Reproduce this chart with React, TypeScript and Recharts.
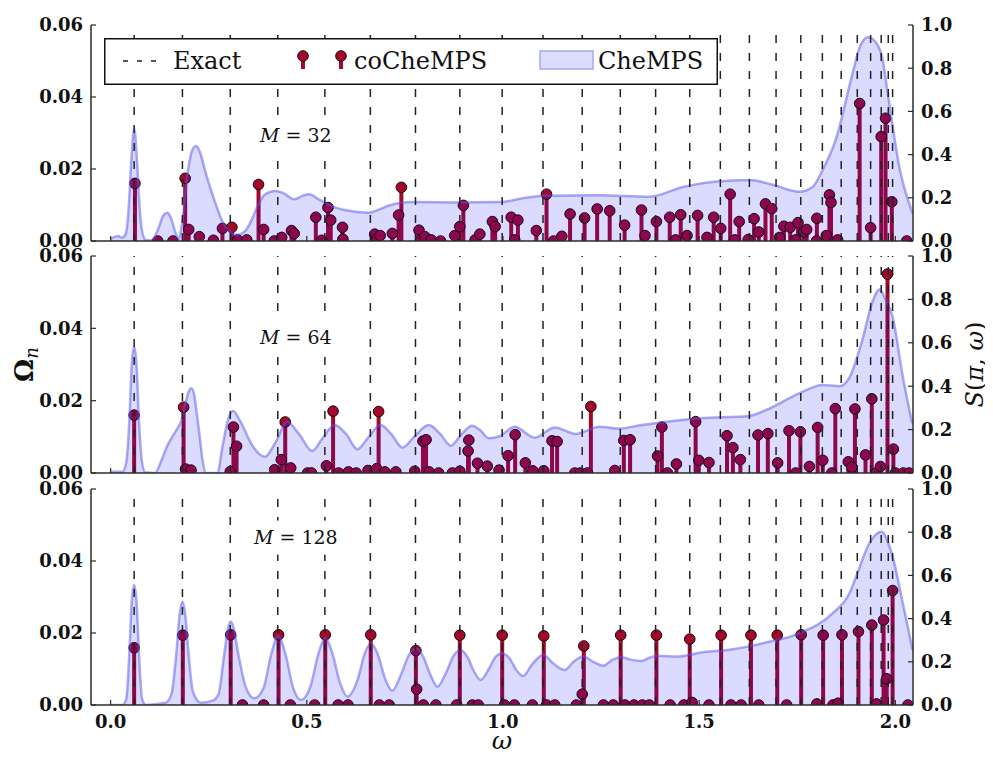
import React from 'react';
import {
  ComposedChart,
  XAxis,
  YAxis,
  Scatter,
  Area,
  ReferenceLine,
  ReferenceDot,
  Legend,
} from 'recharts';

// ---------------- data ----------------
const EXACT_OMEGA = [
  0.060, 0.183, 0.305, 0.426, 0.546, 0.662, 0.777, 0.890, 0.998, 1.102, 1.202, 1.299, 1.389,
  1.476, 1.554, 1.628, 1.696, 1.759, 1.814, 1.862, 1.903, 1.937, 1.964, 1.982, 1.993,
];

const X_TICKS = [0, 0.5, 1.0, 1.5, 2.0];
const LEFT_TICKS = [0, 0.02, 0.04, 0.06];
const RIGHT_TICKS = [0, 0.2, 0.4, 0.6, 0.8, 1.0];

// coCheMPS weights (omega, Omega_n)
const M32_STEMS: [number, number][] = [
  [0.062, 0.016], [0.12, 0], [0.159, 0], [0.19, 0.0174], [0.199, 0.0032], [0.226, 0.0012],
  [0.262, 0.0002], [0.285, 0.0035], [0.309, 0.0038], [0.324, 0.0003], [0.347, 0.0003],
  [0.377, 0.0157], [0.39, 0.0032], [0.417, 0], [0.436, 0.001], [0.461, 0.0029], [0.468, 0.0021],
  [0.523, 0.0066], [0.538, 0.0002], [0.554, 0.0093], [0.561, 0.0058], [0.591, 0.0038],
  [0.592, 0.0005], [0.673, 0.0019], [0.678, 0.0005], [0.687, 0.0015], [0.718, 0.0021],
  [0.734, 0.0072], [0.741, 0.0149], [0.786, 0.003], [0.79, 0.0004], [0.801, 0.0012],
  [0.817, 0.0003], [0.841, 0], [0.877, 0.0015], [0.89, 0.004], [0.899, 0.0099], [0.929, 0.0003],
  [0.941, 0.0019], [0.973, 0.0054], [0.98, 0.004], [1.021, 0.0066], [1.03, 0.0003],
  [1.038, 0.0058], [1.085, 0.0029], [1.111, 0.013], [1.129, 0], [1.15, 0.0013], [1.171, 0.0075],
  [1.208, 0.0064], [1.24, 0.0089], [1.272, 0.0084], [1.31, 0.0044], [1.353, 0.0086],
  [1.362, 0.0015], [1.391, 0.0054], [1.425, 0.0066], [1.44, 0.0003], [1.453, 0.0073],
  [1.469, 0.0015], [1.496, 0.0071], [1.52, 0.001], [1.537, 0.0066], [1.555, 0.0035],
  [1.579, 0.013], [1.591, 0.0003], [1.602, 0.0054], [1.625, 0.0004], [1.64, 0.0062],
  [1.652, 0.0025], [1.669, 0.0103], [1.685, 0.009], [1.705, 0.001], [1.716, 0.0041],
  [1.732, 0.0038], [1.746, 0.0003], [1.752, 0.0051], [1.767, 0.0025], [1.774, 0.0032],
  [1.799, 0], [1.8, 0.0063], [1.824, 0.0015], [1.832, 0.0128], [1.836, 0.0107], [1.853, 0.0003],
  [1.909, 0.0382], [1.937, 0.0037], [1.964, 0.029], [1.975, 0.0341], [1.991, 0.0109], [2.029, 0],
];

const M64_STEMS: [number, number][] = [
  [0.06, 0.016], [0.186, 0.0182], [0.191, 0.0011], [0.205, 0.0008], [0.305, 0.0004],
  [0.313, 0.0127], [0.321, 0.0074], [0.418, 0.0009], [0.435, 0.0037], [0.445, 0.0141],
  [0.459, 0.0014], [0.502, 0], [0.512, 0], [0.55, 0.002], [0.567, 0.0171], [0.581, 0],
  [0.606, 0.0003], [0.626, 0], [0.656, 0.0007], [0.678, 0.0012], [0.683, 0.017], [0.699, 0.0003],
  [0.727, 0.0003], [0.775, 0.0005], [0.796, 0.0088], [0.804, 0.0092], [0.812, 0.0003],
  [0.836, 0], [0.871, 0], [0.89, 0.0005], [0.911, 0.0061], [0.913, 0.0091], [0.935, 0.0027],
  [0.96, 0.0019], [0.99, 0.0008], [1.013, 0.0048], [1.031, 0.0106], [1.057, 0.0028],
  [1.076, 0.0006], [1.104, 0.0006], [1.125, 0.0089], [1.138, 0.0087], [1.183, 0], [1.197, 0],
  [1.215, 0], [1.224, 0.0184], [1.285, 0.0007], [1.308, 0.009], [1.324, 0.0092],
  [1.394, 0.0047], [1.405, 0.0127], [1.419, 0], [1.442, 0.0025], [1.491, 0.0142],
  [1.499, 0.0035], [1.525, 0.0029], [1.571, 0.0103], [1.586, 0.007], [1.605, 0.0037],
  [1.65, 0.0105], [1.675, 0.0109], [1.7, 0.0028], [1.729, 0.0117], [1.746, 0], [1.758, 0.0114],
  [1.781, 0.0018], [1.802, 0.0126], [1.815, 0.0035], [1.838, 0], [1.847, 0.0178],
  [1.88, 0.0031], [1.889, 0.0016], [1.897, 0.0177], [1.924, 0.005], [1.94, 0.0205], [1.951, 0],
  [1.962, 0.0018], [1.98, 0.055], [1.995, 0.0066], [2.0, 0], [2.02, 0], [2.035, 0],
];

const M128_STEMS: [number, number][] = [
  [0.06, 0.0159], [0.184, 0.0194], [0.306, 0.0195], [0.336, 0], [0.39, 0], [0.428, 0.0195],
  [0.458, 0], [0.52, 0], [0.547, 0.0195], [0.58, 0], [0.605, 0], [0.663, 0.0195], [0.685, 0],
  [0.71, 0], [0.778, 0.0151], [0.78, 0.0044], [0.797, 0], [0.829, 0], [0.882, 0], [0.89, 0.0194],
  [0.922, 0], [0.937, 0], [0.998, 0.0194], [1.004, 0], [1.029, 0], [1.075, 0], [1.104, 0.0192],
  [1.111, 0], [1.132, 0], [1.187, 0], [1.202, 0.003], [1.206, 0.0164], [1.256, 0], [1.281, 0],
  [1.3, 0.0194], [1.311, 0], [1.334, 0], [1.355, 0], [1.373, 0], [1.391, 0.0194], [1.426, 0],
  [1.461, 0], [1.476, 0.0183], [1.482, 0.0007], [1.525, 0], [1.556, 0.0194], [1.581, 0],
  [1.607, 0], [1.632, 0.0194], [1.652, 0], [1.699, 0.0194], [1.723, 0], [1.76, 0.0195],
  [1.8, 0.0003], [1.816, 0.0194], [1.841, 0], [1.854, 0.0005], [1.864, 0.0195], [1.906, 0.0204],
  [1.94, 0.0222], [1.952, 0.0003], [1.97, 0.0236], [1.978, 0.0073], [1.993, 0.0318], [2.032, 0],
];

// CheMPS spectral function (omega, S)
const M32_CURVE: [number, number][] = [
  [0, 0.01], [0.012, 0.02], [0.02, 0.023], [0.028, 0.015], [0.038, 0.03], [0.046, 0.15],
  [0.053, 0.38], [0.06, 0.52], [0.067, 0.38], [0.074, 0.15], [0.082, 0.03], [0.09, 0.005],
  [0.105, 0.003], [0.12, 0.05], [0.135, 0.12], [0.145, 0.131], [0.155, 0.1], [0.165, 0.04],
  [0.173, 0.01], [0.182, 0.08], [0.196, 0.31], [0.208, 0.42], [0.218, 0.44], [0.228, 0.41],
  [0.24, 0.33], [0.255, 0.24], [0.27, 0.16], [0.285, 0.09], [0.3, 0.05], [0.323, 0.028],
  [0.345, 0.05], [0.36, 0.1], [0.374, 0.159], [0.39, 0.21], [0.408, 0.228], [0.42, 0.232],
  [0.44, 0.222], [0.468, 0.193], [0.49, 0.21], [0.506, 0.216], [0.533, 0.19], [0.565, 0.16],
  [0.6, 0.142], [0.655, 0.131], [0.714, 0.167], [0.765, 0.18], [0.884, 0.178], [0.994, 0.18],
  [1.05, 0.198], [1.111, 0.21], [1.246, 0.212], [1.374, 0.205], [1.458, 0.25], [1.543, 0.275],
  [1.628, 0.282], [1.688, 0.26], [1.755, 0.228], [1.789, 0.25], [1.815, 0.33], [1.848, 0.468],
  [1.891, 0.776], [1.91, 0.9], [1.93, 0.943], [1.95, 0.92], [1.965, 0.86], [1.985, 0.63],
  [2.01, 0.344], [2.044, 0.128],
];

const M64_CURVE: [number, number][] = [
  [0, 0.006], [0.03, 0.006], [0.04, 0.05], [0.048, 0.25], [0.054, 0.5], [0.06, 0.582],
  [0.066, 0.5], [0.072, 0.25], [0.08, 0.05], [0.088, 0.003], [0.113, 0], [0.13, 0.06],
  [0.143, 0.12], [0.165, 0.19], [0.18, 0.24], [0.192, 0.33], [0.2, 0.38], [0.206, 0.39],
  [0.213, 0.36], [0.22, 0.27], [0.227, 0.167], [0.235, 0.05], [0.242, 0], [0.272, 0],
  [0.285, 0.12], [0.3, 0.25], [0.312, 0.286], [0.33, 0.24], [0.36, 0.13], [0.393, 0.075],
  [0.42, 0.14], [0.45, 0.236], [0.48, 0.18], [0.514, 0.101], [0.54, 0.16], [0.571, 0.221],
  [0.6, 0.18], [0.629, 0.11], [0.655, 0.16], [0.688, 0.221], [0.715, 0.18], [0.744, 0.117],
  [0.775, 0.17], [0.811, 0.221], [0.84, 0.18], [0.867, 0.126], [0.895, 0.18], [0.921, 0.218],
  [0.94, 0.2], [0.964, 0.16], [0.992, 0.17], [1.03, 0.213], [1.081, 0.163], [1.132, 0.21],
  [1.185, 0.18], [1.246, 0.213], [1.297, 0.205], [1.35, 0.22], [1.416, 0.236], [1.501, 0.252],
  [1.628, 0.263], [1.67, 0.29], [1.755, 0.367], [1.815, 0.406], [1.858, 0.4], [1.883, 0.44],
  [1.917, 0.62], [1.94, 0.78], [1.96, 0.846], [1.975, 0.8], [1.993, 0.72], [2.019, 0.444],
  [2.043, 0.229],
];

const M128_CURVE: [number, number][] = [
  [0, 0], [0.03, 0], [0.04, 0.03], [0.048, 0.25], [0.054, 0.48], [0.06, 0.556], [0.066, 0.48],
  [0.072, 0.25], [0.08, 0.03], [0.09, 0], [0.14, 0.01], [0.155, 0.05], [0.168, 0.25],
  [0.176, 0.42], [0.183, 0.478], [0.19, 0.42], [0.198, 0.25], [0.21, 0.06], [0.23, 0.01],
  [0.26, 0.02], [0.275, 0.05], [0.29, 0.24], [0.3, 0.36], [0.306, 0.386], [0.313, 0.36],
  [0.325, 0.24], [0.345, 0.08], [0.366, 0.031], [0.39, 0.08], [0.41, 0.24], [0.427, 0.319],
  [0.445, 0.24], [0.465, 0.08], [0.485, 0.023], [0.51, 0.09], [0.53, 0.24], [0.547, 0.309],
  [0.565, 0.24], [0.585, 0.1], [0.604, 0.039], [0.63, 0.12], [0.648, 0.24], [0.663, 0.285],
  [0.68, 0.24], [0.7, 0.12], [0.718, 0.066], [0.74, 0.14], [0.76, 0.23], [0.778, 0.262],
  [0.795, 0.23], [0.815, 0.14], [0.833, 0.085], [0.855, 0.15], [0.875, 0.23], [0.892, 0.255],
  [0.91, 0.22], [0.925, 0.16], [0.943, 0.116], [0.965, 0.17], [0.982, 0.225], [0.998, 0.239],
  [1.015, 0.22], [1.035, 0.16], [1.051, 0.134], [1.075, 0.19], [1.102, 0.231], [1.13, 0.19],
  [1.157, 0.162], [1.18, 0.2], [1.204, 0.224], [1.23, 0.2], [1.255, 0.182], [1.28, 0.21],
  [1.302, 0.221], [1.325, 0.21], [1.352, 0.204], [1.375, 0.22], [1.395, 0.228], [1.442, 0.224],
  [1.501, 0.242], [1.586, 0.258], [1.67, 0.289], [1.755, 0.332], [1.84, 0.424], [1.883, 0.517],
  [1.9, 0.594], [1.934, 0.749], [1.964, 0.802], [1.993, 0.687], [2.019, 0.471], [2.044, 0.255],
];

// ---------------- style ----------------
const SERIF = "'DejaVu Serif', serif";
const AXIS_COLOR = '#2b2b2b';
const STEM_COLOR = '#a30a2a';
const X_DOMAIN: [number, number] = [-0.05, 2.045];
const CHART_W = 985;
const TICK_STYLE: React.CSSProperties = {
  fontFamily: SERIF,
  fontWeight: 'bold',
  fontSize: 18,
  fill: '#111',
};

const StemLine = (p: any) => {
  const { cx, cy } = p;
  if (cx == null || cy == null) return <g />;
  return <line x1={cx} y1={cy} x2={cx} y2={cy + 600} stroke={STEM_COLOR} strokeWidth={4} />;
};

const StemHead = (p: any) => {
  const { cx, cy } = p;
  if (cx == null || cy == null) return <g />;
  return <circle cx={cx} cy={cy} r={5.3} fill={STEM_COLOR} stroke="#1a0008" strokeWidth={1} />;
};

const makeBottomTick = (show: boolean) => (p: any) => {
  const { x, y, payload } = p;
  return (
    <g>
      <line x1={x} y1={y} x2={x} y2={y - 5} stroke={AXIS_COLOR} strokeWidth={1.2} />
      {show && (
        <text x={x} y={y + 23} textAnchor="middle" style={TICK_STYLE}>
          {Number(payload.value).toFixed(1)}
        </text>
      )}
    </g>
  );
};

const TopTick = (p: any) => {
  const { x, y } = p;
  return <line x1={x} y1={y} x2={x} y2={y + 5} stroke={AXIS_COLOR} strokeWidth={1.2} />;
};

const LeftTick = (p: any) => {
  const { x, y, payload } = p;
  return (
    <g>
      <line x1={x} y1={y} x2={x + 5} y2={y} stroke={AXIS_COLOR} strokeWidth={1.2} />
      <text x={x - 8} y={y} dy="0.36em" textAnchor="end" style={TICK_STYLE}>
        {Number(payload.value).toFixed(2)}
      </text>
    </g>
  );
};

const RightTick = (p: any) => {
  const { x, y, payload } = p;
  return (
    <g>
      <line x1={x} y1={y} x2={x - 5} y2={y} stroke={AXIS_COLOR} strokeWidth={1.2} />
      <text x={x + 8} y={y} dy="0.36em" textAnchor="start" style={TICK_STYLE}>
        {Number(payload.value).toFixed(1)}
      </text>
    </g>
  );
};

const OmegaXLabel = (p: any) => {
  const vb = p.viewBox;
  return (
    <text
      x={vb.x + vb.width / 2}
      y={vb.y + 44}
      textAnchor="middle"
      style={{ fontFamily: SERIF, fontStyle: 'italic', fontSize: 25, fill: '#111' }}
    >
      ω
    </text>
  );
};

const OmegaNLabel = (p: any) => {
  const vb = p.viewBox;
  const x = vb.x + 25;
  const y = vb.y + vb.height / 2;
  return (
    <text
      x={x}
      y={y}
      transform={`rotate(-90, ${x}, ${y})`}
      textAnchor="middle"
      style={{ fontFamily: SERIF, fontSize: 26, fill: '#111' }}
    >
      <tspan fontWeight="bold">Ω</tspan>
      <tspan fontStyle="italic" fontSize={18} dy={5}>n</tspan>
    </text>
  );
};

const SLabel = (p: any) => {
  const vb = p.viewBox;
  const x = vb.x + 70;
  const y = vb.y + vb.height / 2;
  return (
    <text
      x={x}
      y={y}
      transform={`rotate(-90, ${x}, ${y})`}
      textAnchor="middle"
      style={{ fontFamily: SERIF, fontSize: 24, fill: '#111' }}
    >
      <tspan fontStyle="italic">S</tspan>(<tspan fontStyle="italic">π</tspan>, <tspan fontStyle="italic">ω</tspan>)
    </text>
  );
};

const makeMLabel = (m: string) => (p: any) => {
  const vb = p.viewBox;
  const cx = vb.x + (vb.width || 0) / 2;
  const cy = vb.y + (vb.height || 0) / 2;
  const w = m.length > 2 ? 84 : 76;
  return (
    <g>
      <rect x={cx - w / 2} y={cy - 17} width={w} height={34} fill="#ffffff" />
      <text
        x={cx}
        y={cy}
        dy="0.36em"
        textAnchor="middle"
        style={{ fontFamily: SERIF, fontSize: 19, fill: '#111' }}
      >
        <tspan fontStyle="italic">M</tspan>
        {` = ${m}`}
      </text>
    </g>
  );
};

const LegendBox = () => (
  <svg width={614} height={47} style={{ display: 'block' }}>
    <rect x={0.75} y={0.75} width={612.5} height={45.5} fill="#ffffff" stroke="#111" strokeWidth={1.5} />
    <line x1={19} y1={23} x2={57} y2={23} stroke="#222" strokeWidth={1.5} strokeDasharray="5 9" />
    <text x={69} y={31} style={{ fontFamily: SERIF, fontSize: 24, fill: '#111' }}>Exact</text>
    <line x1={199} y1={18} x2={199} y2={31} stroke={STEM_COLOR} strokeWidth={4} />
    <circle cx={199} cy={18} r={5.3} fill={STEM_COLOR} stroke="#1a0008" strokeWidth={1} />
    <line x1={237} y1={18} x2={237} y2={31} stroke={STEM_COLOR} strokeWidth={4} />
    <circle cx={237} cy={18} r={5.3} fill={STEM_COLOR} stroke="#1a0008" strokeWidth={1} />
    <text x={250} y={31} style={{ fontFamily: SERIF, fontSize: 24, fill: '#111' }}>coCheMPS</text>
    <rect x={436} y={13} width={53} height={18} fill="#dcdcff" stroke="#a8a8f2" strokeWidth={1.5} />
    <text x={494} y={31} style={{ fontFamily: SERIF, fontSize: 24, fill: '#111' }}>CheMPS</text>
  </svg>
);

type PanelProps = {
  height: number;
  marginTop: number;
  xAxisHeight: number;
  stems: [number, number][];
  curve: [number, number][];
  mText: string;
  mY: number;
  showXLabels?: boolean;
  showYLabels?: boolean;
  showLegend?: boolean;
};

function Panel(props: PanelProps) {
  const { height, marginTop, xAxisHeight, stems, curve, mText, mY, showXLabels, showYLabels, showLegend } = props;
  const stemData = stems.map(([w, v]) => ({ w, v }));
  const curveData = curve.map(([w, s]) => ({ w, s }));
  return (
    <ComposedChart width={CHART_W} height={height} margin={{ top: marginTop, right: 0, bottom: 0, left: 0 }}>
      <XAxis
        xAxisId={0}
        dataKey="w"
        type="number"
        domain={X_DOMAIN}
        ticks={X_TICKS}
        interval={0}
        allowDataOverflow
        height={xAxisHeight}
        tickSize={0}
        tickMargin={0}
        tickLine={false}
        axisLine={{ stroke: AXIS_COLOR, strokeWidth: 1.5 }}
        tick={makeBottomTick(!!showXLabels)}
        label={showXLabels ? OmegaXLabel : undefined}
      />
      <XAxis
        xAxisId="top"
        orientation="top"
        dataKey="w"
        type="number"
        domain={X_DOMAIN}
        ticks={X_TICKS}
        interval={0}
        allowDataOverflow
        height={0}
        tickSize={0}
        tickMargin={0}
        tickLine={false}
        axisLine={{ stroke: AXIS_COLOR, strokeWidth: 1.5 }}
        tick={TopTick}
      />
      <YAxis
        yAxisId="left"
        type="number"
        domain={[0, 0.06]}
        ticks={LEFT_TICKS}
        interval={0}
        allowDataOverflow
        width={83}
        tickSize={0}
        tickMargin={0}
        tickLine={false}
        axisLine={{ stroke: AXIS_COLOR, strokeWidth: 1.5 }}
        tick={LeftTick}
        label={showYLabels ? OmegaNLabel : undefined}
      />
      <YAxis
        yAxisId="right"
        orientation="right"
        type="number"
        domain={[0, 1]}
        ticks={RIGHT_TICKS}
        interval={0}
        allowDataOverflow
        width={80}
        tickSize={0}
        tickMargin={0}
        tickLine={false}
        axisLine={{ stroke: AXIS_COLOR, strokeWidth: 1.5 }}
        tick={RightTick}
        label={showYLabels ? SLabel : undefined}
      />
      <Scatter
        yAxisId="left"
        data={stemData}
        dataKey="v"
        shape={StemLine}
        isAnimationActive={false}
        zIndex={300}
      />
      <Scatter
        yAxisId="left"
        data={stemData}
        dataKey="v"
        shape={StemHead}
        isAnimationActive={false}
        zIndex={310}
      />
      <Area
        yAxisId="right"
        data={curveData}
        dataKey="s"
        type="monotone"
        fill="#0000ff"
        fillOpacity={0.14}
        stroke="#5555ee"
        strokeOpacity={0.5}
        strokeWidth={2.5}
        dot={false}
        activeDot={false}
        isAnimationActive={false}
        zIndex={350}
      />
      {EXACT_OMEGA.map((w) => (
        <ReferenceLine
          key={w}
          x={w}
          yAxisId="left"
          stroke="#222"
          strokeWidth={1.5}
          strokeDasharray="8 10"
          zIndex={400}
        />
      ))}
      <ReferenceDot
        x={0.472}
        y={mY}
        yAxisId="left"
        r={0}
        fill="none"
        stroke="none"
        label={makeMLabel(mText)}
        zIndex={450}
      />
      {showLegend && (
        <Legend
          verticalAlign="middle"
          align="center"
          layout="horizontal"
          content={LegendBox}
          wrapperStyle={{ left: 96, top: 30, width: 614, height: 47, lineHeight: 0 }}
        />
      )}
    </ComposedChart>
  );
}

export default function App() {
  return (
    <div style={{ position: 'relative', width: 977, height: 743 }}>
      <div style={{ position: 'absolute', left: 0, top: 0 }}>
        <Panel height={240} marginTop={17} xAxisHeight={7} stems={M32_STEMS} curve={M32_CURVE} mText="32" mY={0.0293} showLegend />
      </div>
      <div style={{ position: 'absolute', left: 0, top: 240 }}>
        <Panel height={233} marginTop={8} xAxisHeight={8} stems={M64_STEMS} curve={M64_CURVE} mText="64" mY={0.0376} showYLabels />
      </div>
      <div style={{ position: 'absolute', left: 0, top: 473 }}>
        <Panel height={270} marginTop={8} xAxisHeight={46} stems={M128_STEMS} curve={M128_CURVE} mText="128" mY={0.0465} showXLabels />
      </div>
    </div>
  );
}
